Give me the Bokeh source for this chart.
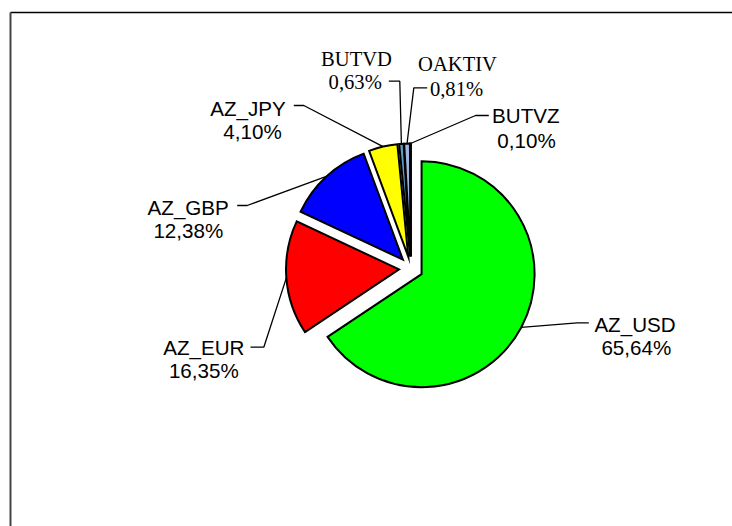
import numpy as np
from bokeh.plotting import figure
from bokeh.models import ColumnDataSource, Range1d
from bokeh.core.properties import value
from bokeh.embed import file_html
from bokeh.resources import INLINE

# ---- data ----
names = ["AZ_USD", "AZ_EUR", "AZ_GBP", "AZ_JPY", "BUTVD", "OAKTIV", "BUTVZ"]
shares = [65.64, 16.35, 12.38, 4.10, 0.63, 0.81, 0.10]

# ---- style ----
colors = ["#00FF00", "#FF0000", "#0000FF", "#FFFF00", "#5B9EC4", "#A0B4E2", "#7F9FCF"]
fonts = ["Liberation Sans", "Liberation Sans", "Liberation Sans", "Liberation Sans",
         "Liberation Serif", "Liberation Serif", "Liberation Sans"]

# layout in picture pixels (x right, y down)
W, H = 732, 526
pie_cx, pie_cy = 410.5, 268.0
radius = 113
explode = 12
name_pos = [(634.5, 323.5), (203.3, 347.0), (187.7, 206.5), (247.5, 108.0),
            (356.0, 58.5), (457.0, 63.5), (525.3, 115.0)]
pct_pos = [(635.8, 347.0), (203.3, 370.0), (187.8, 229.5), (252.0, 131.3),
           (354.7, 81.5), (456.0, 88.5), (526.0, 140.0)]
leader_end = [(588.3, 322.3), (250.0, 346.7), (236.7, 205.0), (293.3, 105.0),
              (388.3, 80.7), (426.7, 87.3), (488.3, 115.0)]
leader_elbow = [(576.7, 322.3), (263.3, 346.7), (246.7, 205.0), (303.3, 105.0),
                (399.3, 80.7), (413.3, 87.3), (475.0, 115.0)]
frame_left, frame_top = 10, 12

# ---- geometry from data ----
vals = np.array(shares, dtype=float)
frac = vals / vals.sum()
cum = np.concatenate([[0.0], np.cumsum(frac)])
t0 = 2 * np.pi * cum[:-1]          # clockwise from 12 o'clock
t1 = 2 * np.pi * cum[1:]
mid = (t0 + t1) / 2
ux, uy = np.sin(mid), np.cos(mid)  # data coords (y up)
cx = pie_cx + explode * ux
cy = -pie_cy + explode * uy

p = figure(width=W, height=H, x_range=Range1d(0, W), y_range=Range1d(-H, 0),
           output_backend="svg", toolbar_location=None, min_border=0,
           x_axis_location=None, y_axis_location=None, outline_line_color=None,
           outline_line_alpha=0, background_fill_color=None, border_fill_color=None)
p.grid.visible = False

# chart-area border (only top and left visible in the window)
p.line(x=[frame_left, W + 20], y=[-frame_top, -frame_top], line_color="black", line_width=1.5)
p.line(x=[frame_left, frame_left], y=[-frame_top, -H - 20], line_color="#444444", line_width=2)

src = ColumnDataSource(dict(x=cx, y=cy, start=np.pi / 2 - t1, end=np.pi / 2 - t0,
                            color=colors, name=names))
p.wedge(x="x", y="y", radius=radius, start_angle="start", end_angle="end",
        direction="anticlock", fill_color="color", line_color="black",
        line_width=2, line_join="miter", source=src)

# leader lines
xs, ys = [], []
for i in range(len(names)):
    px = cx[i] + radius * ux[i]
    py = cy[i] + radius * uy[i]
    xs.append([leader_end[i][0], leader_elbow[i][0], px])
    ys.append([-leader_end[i][1], -leader_elbow[i][1], py])
p.multi_line(xs=xs, ys=ys, line_color="black", line_width=1.3)

# labels
pct_txt = [("%.2f" % v).replace(".", ",") + "%" for v in shares]
for font in sorted(set(fonts)):
    idx = [i for i, f in enumerate(fonts) if f == font]
    tx = [name_pos[i][0] for i in idx] + [pct_pos[i][0] for i in idx]
    ty = [-name_pos[i][1] for i in idx] + [-pct_pos[i][1] for i in idx]
    tt = [names[i] for i in idx] + [pct_txt[i] for i in idx]
    p.text(x=tx, y=ty, text=tt, text_align="center", text_baseline="alphabetic",
           text_font=value(font), text_font_size="20.6px", text_color="black")

open("out.html", "w").write(file_html(p, INLINE))
